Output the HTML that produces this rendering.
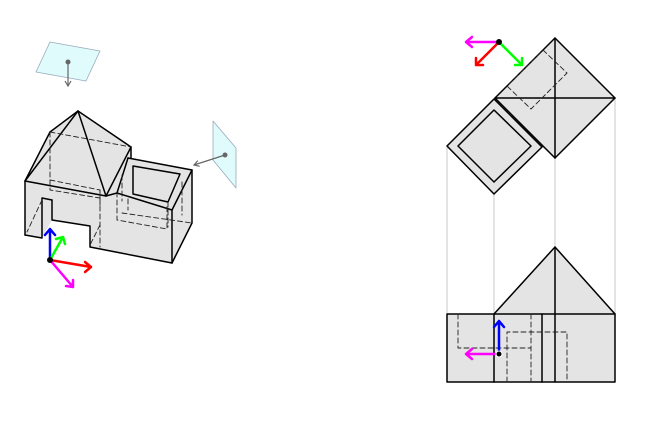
<!DOCTYPE html>
<html><head><meta charset="utf-8"><style>html,body{margin:0;padding:0;background:#fff}svg{display:block}</style></head><body>
<svg width="669" height="421" viewBox="0 0 669 421" xmlns="http://www.w3.org/2000/svg">
<defs>
<marker id="gA" markerWidth="8" markerHeight="8" refX="6" refY="4" orient="auto" markerUnits="userSpaceOnUse"><path d="M1,1 L6,4 L1,7" fill="none" stroke="#666" stroke-width="1.2"/></marker>
</defs>
<g stroke-linejoin="round" stroke-linecap="round">
<polygon points="36,72 50,42 100,51 86,81" fill="#e0fbfb" stroke="#9ab" stroke-width="0.8"/>
<line x1="68" y1="62" x2="68" y2="86" stroke="#666" stroke-width="1.2" marker-end="url(#gA)"/>
<circle cx="68" cy="62" r="2.5" fill="#666"/>
<polygon points="213,121 236,148 236,188 213,160" fill="#e0fbfb" stroke="#9ab" stroke-width="0.8"/>
<line x1="225" y1="155" x2="194" y2="165" stroke="#666" stroke-width="1.2" marker-end="url(#gA)"/>
<circle cx="225" cy="155" r="2.5" fill="#666"/>
<polygon points="25,181 50,132 78,111 131,147 131,158 192,170 192,223 172,263 90,247 90,226 52,220 42,238 25,235" fill="#e4e4e4"/>
<g fill="none" stroke="#000" stroke-width="1.5">
<polyline points="25,235 25,181 106,196 117,193"/>
<line x1="25" y1="181" x2="78" y2="111"/>
<line x1="25" y1="181" x2="50" y2="132"/>
<line x1="50" y1="132" x2="78" y2="111"/>
<line x1="78" y1="111" x2="106" y2="196"/>
<line x1="78" y1="111" x2="131" y2="147"/>
<line x1="131" y1="147" x2="106" y2="196"/>
<polyline points="25,235 42,238 42,198 52,200"/>
<polyline points="52,200 52,220 90,226 90,247 172,263 192,223 192,170 128,158"/>
<line x1="131" y1="147" x2="131" y2="158"/>
<line x1="128" y1="158" x2="117" y2="193"/>
<polyline points="117,193 172,210 192,170"/>
<line x1="172" y1="210" x2="172" y2="263"/>
<polyline points="133,193 133,166 180,174 168,202 133,194"/>
</g>
<g fill="none" stroke="#222" stroke-width="0.9" stroke-dasharray="5,3">
<line x1="50" y1="132" x2="131" y2="147"/>
<line x1="50" y1="132" x2="50" y2="180"/>
<polyline points="50,180 100,190 100,205"/>
<polyline points="50,180 50,190 100,198"/>
<line x1="100" y1="190" x2="100" y2="247"/>
<line x1="42" y1="200" x2="27" y2="232"/>
<line x1="100" y1="225" x2="90" y2="245"/>
<line x1="122" y1="175" x2="122" y2="201"/>
<polyline points="117,192 117,220 167,229 167,205"/>
<line x1="182" y1="182" x2="182" y2="215"/>
<line x1="122" y1="213" x2="192" y2="223"/>
<line x1="128" y1="199" x2="128" y2="210"/>
<line x1="168" y1="202" x2="168" y2="227"/>
</g>
<g stroke-width="2.5" fill="none">
<path d="M50,260 L50,229 M45,235 L50,229 L55,235" stroke="#00f"/>
<path d="M50,260 L63,237 M56,239 L63,237 L65,244" stroke="#0f0"/>
<path d="M50,260 L91,267 M85,262 L91,267 L85,272" stroke="#f00"/>
<path d="M50,260 L73,287 M66,286 L73,287 L73,280" stroke="#f0f"/>
</g>
<circle cx="50" cy="260" r="3" fill="#000"/>

<g stroke="#bbb" stroke-width="0.8">
<line x1="447" y1="146" x2="447" y2="314"/>
<line x1="494" y1="194" x2="494" y2="314"/>
<line x1="555" y1="158" x2="555" y2="247"/>
<line x1="615" y1="98" x2="615" y2="314"/>
</g>
<polygon points="447,146 494,98 555,38 615,98 555,158 542,147 494,194" fill="#e4e4e4"/>
<g fill="none" stroke="#000" stroke-width="1.5">
<polygon points="555,38 615,98 555,158 495,98"/>
<line x1="495" y1="98" x2="615" y2="98"/>
<line x1="555" y1="38" x2="555" y2="158"/>
<polygon points="447,146 494,99 542,147 494,194"/>
<polygon points="458,146 494,110 531,146 494,182"/>
</g>
<polygon points="543,50 567,73 531,109 507,86" fill="none" stroke="#222" stroke-width="0.9" stroke-dasharray="5,3"/>
<polygon points="447,314 494,314 555,247 615,314 615,382 447,382" fill="#e4e4e4"/>
<g fill="none" stroke="#000" stroke-width="1.5">
<rect x="447" y="314" width="168" height="68"/>
<polyline points="494,314 555,247 615,314"/>
<line x1="494" y1="314" x2="494" y2="382"/>
<line x1="542" y1="314" x2="542" y2="382"/>
<line x1="555" y1="247" x2="555" y2="382"/>
</g>
<g fill="none" stroke="#222" stroke-width="0.9" stroke-dasharray="5,3">
<polyline points="458,314 458,348 531,348"/>
<line x1="531" y1="314" x2="531" y2="382"/>
<polyline points="507,382 507,332 567,332 567,382"/>
</g>
<g stroke-width="2.5" fill="none">
<path d="M499,42 L466,42 M472,37 L466,42 L472,47" stroke="#f0f"/>
<path d="M499,42 L476,65 M476,58 L476,65 L483,65" stroke="#f00"/>
<path d="M499,42 L522,65 M515,65 L522,65 L522,58" stroke="#0f0"/>
</g>
<circle cx="499" cy="42" r="3" fill="#000"/>
<g stroke-width="2.5" fill="none">
<path d="M499,354 L499,321 M494,327 L499,321 L504,327" stroke="#00f"/>
<path d="M499,354 L466,354 M472,349 L466,354 L472,359" stroke="#f0f"/>
</g>
<circle cx="499" cy="354" r="3" fill="#000" stroke="#fff" stroke-width="1"/>
</g>
</svg>
</body></html>
